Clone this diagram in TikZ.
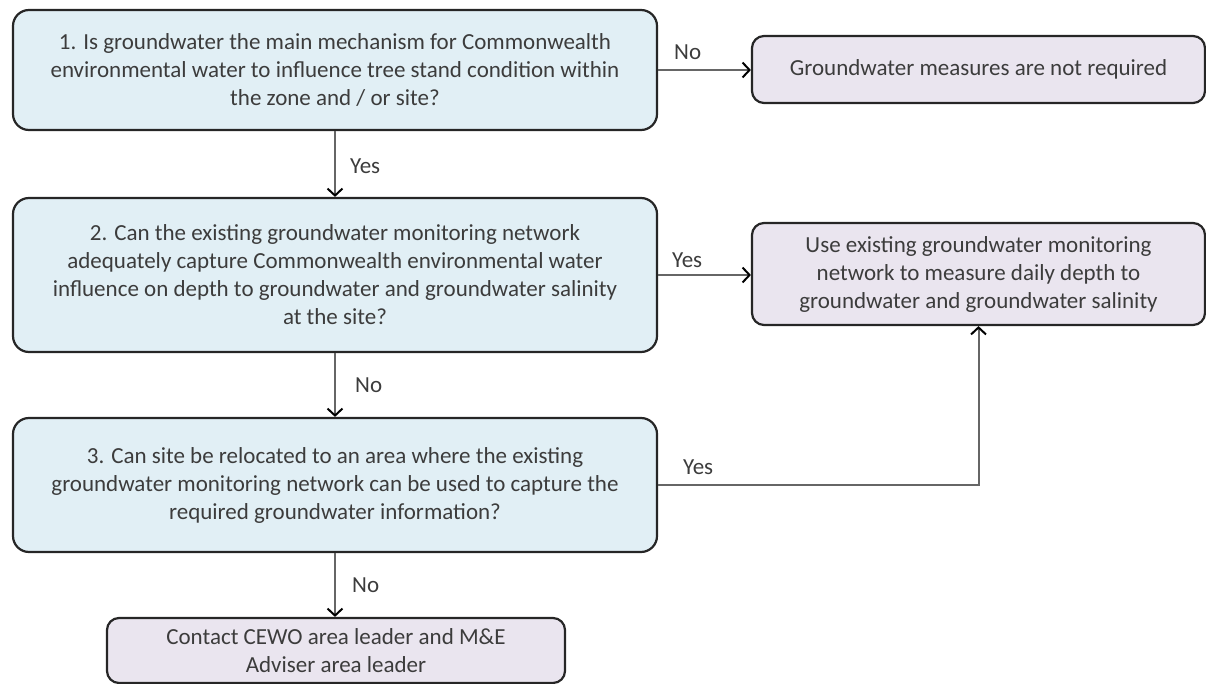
\documentclass[tikz,border=0pt]{standalone}
\usepackage{fontspec}
\setmainfont{Carlito}
\usetikzlibrary{arrows.meta}
\definecolor{qfill}{HTML}{E1EFF5}
\definecolor{afill}{HTML}{EAE5EF}
\definecolor{edge}{HTML}{262626}
\definecolor{ink}{HTML}{3C3C3C}
\definecolor{wire}{HTML}{666666}
\begin{document}
\begin{tikzpicture}[x=1pt,y=-1pt,
  box/.style={draw=edge, line width=2.2pt, rounded corners=16pt, align=center,
    text=ink, font=\fontsize{23}{28}\selectfont, inner sep=0pt},
  question/.style={box, fill=qfill, minimum width=644pt},
  outcome/.style={box, fill=afill, rounded corners=12pt},
  link/.style={draw=wire, line width=2pt,
    -{Straight Barb[length=7pt,width=15pt,color=black,line width=2pt]}},
  tag/.style={text=ink, font=\fontsize{23}{28}\selectfont, inner sep=0pt, anchor=west}]
\useasboundingbox (0,0) rectangle (1206,684);

% decision boxes
\node[question, minimum height=120pt] (q1) at (335,70)
  {1. Is groundwater the main mechanism for Commonwealth\\
   environmental water to influence tree stand condition within\\
   the zone and / or site?};
\node[question, minimum height=154pt] (q2) at (335,275)
  {2. Can the existing groundwater monitoring network\\
   adequately capture Commonwealth environmental water\\
   influence on depth to groundwater and groundwater salinity\\
   at the site?};
\node[question, minimum height=134pt] (q3) at (335,485)
  {3. Can site be relocated to an area where the existing\\
   groundwater monitoring network can be used to capture the\\
   required groundwater information?};

% outcome boxes
\node[outcome, minimum width=453pt, minimum height=67pt] (none) at (978.5,69.5)
  {Groundwater measures are not required};
\node[outcome, minimum width=453pt, minimum height=102pt] (use) at (978.5,274)
  {Use existing groundwater monitoring\\
   network to measure daily depth to\\
   groundwater and groundwater salinity};
\node[outcome, minimum width=458pt, minimum height=65pt] (act) at (336,650.5)
  {Contact CEWO area leader and M\&E\\ Adviser area leader};

% connectors
\draw[link] (q1.east) -- (q1.east -| none.west);
\draw[link] (q1.south) -- (q2.north);
\draw[link] (q2.east) -- (q2.east -| use.west);
\draw[link] (q2.south) -- (q3.north);
\draw[link] (q3.east) -| (use.south);
\draw[link] (q3.south) -- (q3.south |- act.north);

% connector labels
\node[tag] (l1) at (674,52) {No};
\node[tag] (l2) at (350,166) {Yes};
\node[tag] (l3) at (672,260) {Yes};
\node[tag] (l4) at (355,385) {No};
\node[tag] (l5) at (683,467) {Yes};
\node[tag] (l6) at (352,585) {No};
\end{tikzpicture}
\end{document}
